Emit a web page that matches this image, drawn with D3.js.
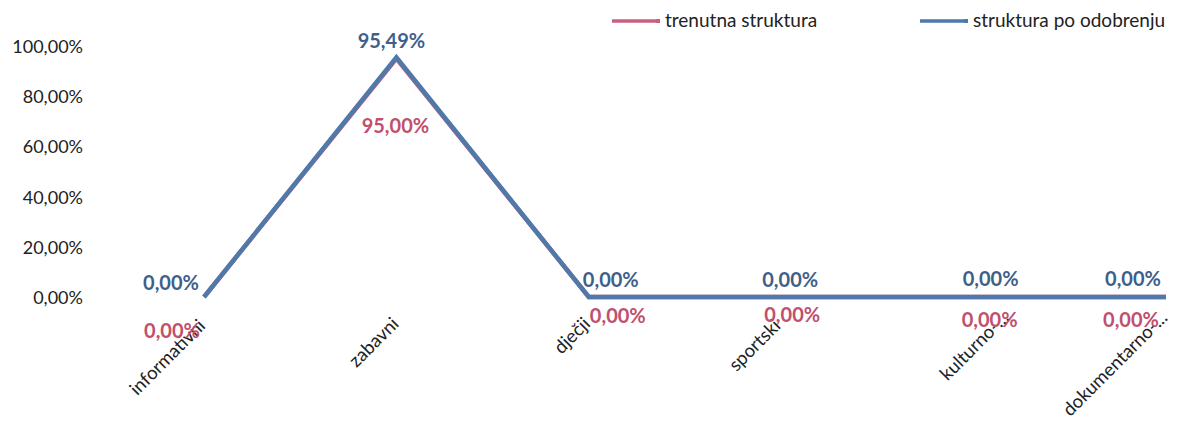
<!DOCTYPE html>
<html><head><meta charset="utf-8">
<script src="https://cdn.jsdelivr.net/npm/d3@7"></script>
<style>body{margin:0;background:#fff}svg{display:block;font-family:Lato,"Open Sans",sans-serif}</style>
</head><body><svg id="c" width="1181" height="427"></svg>
<script>
const categories = ["informativni","zabavni","dječji","sportski","kulturno-...","dokumentarno-..."];
const trenutna = [0, 95.00, 0, 0, 0, 0];
const poOdobrenju = [0, 95.49, 0, 0, 0, 0];
const yTicks = [0, 20, 40, 60, 80, 100];
const seriesNames = ["trenutna struktura","struktura po odobrenju"];

const RED = "#c8607e", BLUE = "#4f79ab", REDTXT = "#c0506e", BLUETXT = "#3f5f8a";
const FONT = "Lato,'Open Sans',sans-serif";
const svg = d3.select("#c");
const x = d3.scalePoint().domain(categories).range([204, 1166]);
const y = d3.scaleLinear().domain([0, 100]).range([297, 46]);
const fmt = v => v.toFixed(2).replace(".", ",") + "%";

// y axis
const ya = svg.append("g").attr("transform", "translate(83,0)")
  .call(d3.axisLeft(y).tickValues(yTicks).tickSize(0).tickPadding(0).tickFormat(fmt));
ya.select(".domain").remove();
ya.selectAll("text").attr("font-size", 18).attr("fill", "#222").attr("font-family", FONT).attr("dy", "0.36em");

// x axis labels (rotated) – layout offsets only
const xLabOff = [[2, 30], [3, 28], [2, 28], [0, 30], [36, 22], [2, 22]];
const xa = svg.append("g").attr("transform", "translate(0,297)")
  .call(d3.axisBottom(x).tickSize(0).tickFormat(d => d));
xa.select(".domain").remove();
xa.selectAll("text").attr("font-size", 18.5).attr("fill", "#222")
  .attr("font-family", FONT)
  .attr("text-anchor", "end").attr("dy", 0).attr("y", 0)
  .attr("transform", (d, i) => `translate(${xLabOff[i][0]},${xLabOff[i][1]}) rotate(-45)`);

const line = d3.line().x((d, i) => x(categories[i])).y(d => y(d));
svg.append("path").datum(trenutna).attr("d", line).attr("fill", "none")
  .attr("stroke", RED).attr("stroke-width", 4.5).attr("stroke-linejoin", "miter");
svg.append("path").datum(poOdobrenju).attr("d", line).attr("fill", "none")
  .attr("stroke", BLUE).attr("stroke-width", 4.5).attr("stroke-linejoin", "miter");

// label offsets (layout only)
const blueOff = [[-33,-7],[-5,-9],[22,-10],[9,-10],[17,-11],[-33,-11]];
const redOff = [[-32,41],[-1,74],[29,26],[11,25],[16,30],[-35,30]];
svg.append("g").selectAll("text").data(poOdobrenju).join("text")
  .attr("x", (d, i) => x(categories[i]) + blueOff[i][0])
  .attr("y", (d, i) => y(d) + blueOff[i][1])
  .attr("text-anchor", "middle").attr("font-size", 20).attr("font-weight", "bold")
  .attr("fill", BLUETXT).text(fmt);
svg.append("g").selectAll("text").data(trenutna).join("text")
  .attr("x", (d, i) => x(categories[i]) + redOff[i][0])
  .attr("y", (d, i) => y(d) + redOff[i][1])
  .attr("text-anchor", "middle").attr("font-size", 20).attr("font-weight", "bold")
  .attr("fill", REDTXT).text(fmt);

// legend
const lg = svg.append("g");
const lx = [612, 920], lc = [RED, BLUE];
seriesNames.forEach((n, i) => {
  lg.append("line").attr("x1", lx[i]).attr("x2", lx[i] + 44).attr("y1", 21).attr("y2", 21)
    .attr("stroke", lc[i]).attr("stroke-width", 3.5);
  lg.append("rect").attr("x", lx[i] + 44).attr("y", 19).attr("width", 4).attr("height", 4).attr("fill", lc[i]);
  lg.append("text").attr("x", lx[i] + 53).attr("y", 27).attr("font-size", 19).attr("fill", "#222").text(n);
});
</script></body></html>
